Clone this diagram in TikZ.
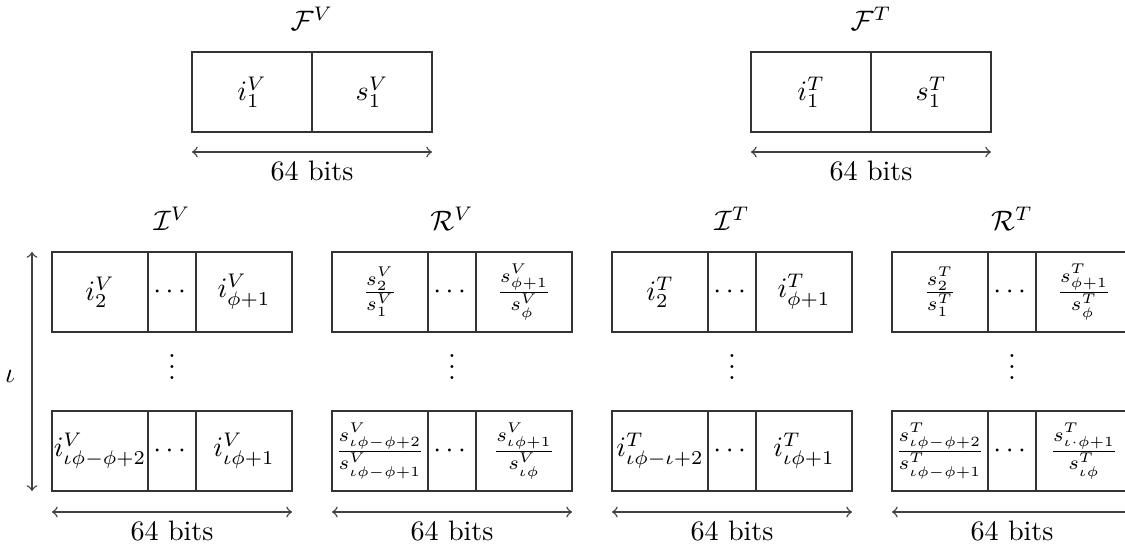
\documentclass[tikz,border=0pt]{standalone}
\usepackage{amsmath}
\usetikzlibrary{calc}
\newcommand\rowblock[6]{%
  \node[blk] (#1) at (#2,#3) {};
  \draw[divl] ($(#1.north west)!0.4!(#1.north east)$) -- ($(#1.south west)!0.4!(#1.south east)$);
  \draw[divl] ($(#1.north west)!0.6!(#1.north east)$) -- ($(#1.south west)!0.6!(#1.south east)$);
  \node[txt] (#1-a) at ($(#1.west)!0.2!(#1.east)$) {#4};
  \node[txt] (#1-b) at (#1.center) {#5};
  \node[txt] (#1-c) at ($(#1.west)!0.8!(#1.east)$) {#6};
}
\newcommand\pairblock[4]{%
  \node[blk] (#1) at (#2,#3) {};
  \draw[divl] (#1.north) -- (#1.south);
  \node[txt] (#1-a) at ($(#1.west)!0.25!(#1.east)$) {#4};
}
\begin{document}
\begin{tikzpicture}[x=0.0125cm,y=-0.0125cm,
  blk/.style={draw=black!80, line width=0.5pt, minimum width=3cm, minimum height=1cm, inner sep=0pt, outer sep=0pt, anchor=north west},
  divl/.style={draw=black!80, line width=0.5pt},
  txt/.style={inner sep=0pt},
  dim/.style={<->, draw=black!75, line width=0.5pt},
  lab/.style={anchor=base, inner sep=0pt}]
\clip (0,0) rectangle (1125,549);
% ---- top: F^V
\node[lab] (tFV) at (312,31) {$\mathcal{F}^V$};
\node[blk] (FV) at (192,52) {};
\draw[divl] (FV.north) -- (FV.south);
\node[txt] (FVa) at ($(FV.west)!0.25!(FV.east)$) {$i^V_1$};
\node[txt] (FVb) at ($(FV.west)!0.75!(FV.east)$) {$s^V_1$};
\coordinate (fvL) at (192,152); \coordinate (fvR) at (432,152);
\draw[dim] (fvL) -- (fvR);
\node[lab] (fvb) at (312,181) {64 bits};
% ---- top: F^T
\node[lab] (tFT) at (871,31) {$\mathcal{F}^T$};
\node[blk] (FT) at (751,52) {};
\draw[divl] (FT.north) -- (FT.south);
\node[txt] (FTa) at ($(FT.west)!0.25!(FT.east)$) {$i^T_1$};
\node[txt] (FTb) at ($(FT.west)!0.75!(FT.east)$) {$s^T_1$};
\coordinate (ftL) at (751,152); \coordinate (ftR) at (991,152);
\draw[dim] (ftL) -- (ftR);
\node[lab] (ftb) at (871,181) {64 bits};
% ---- left iota arrow
\coordinate (iotT) at (32,252); \coordinate (iotB) at (32,491);
\draw[dim] (iotT) -- (iotB);
\node (iota) at (10,376) {$\iota$};
% ---- I^V
\node[lab] (tIV) at (172,231) {$\mathcal{I}^V$};
\rowblock{IV1}{52}{252}{$i^V_2$}{$\cdots$}{$i^V_{\phi+1}$}
\node[lab] (ivd) at (172,380) {$\vdots$};
\rowblock{IV2}{52}{411}{$i^V_{\iota\phi-\phi+2}$}{$\cdots$}{$i^V_{\iota\phi+1}$}
\coordinate (ivL) at (52,512); \coordinate (ivR) at (292,512);
\draw[dim] (ivL) -- (ivR);
\node[lab] (ivb) at (172,540) {64 bits};
% ---- R^V
\node[lab] (tRV) at (452,231) {$\mathcal{R}^V$};
\rowblock{RV1}{332}{252}{$\frac{s^V_2}{s^V_1}$}{$\cdots$}{$\frac{s^V_{\phi+1}}{s^V_{\phi}}$}
\node[lab] (rvd) at (452,380) {$\vdots$};
\rowblock{RV2}{332}{411}{$\frac{s^V_{\iota\phi-\phi+2}}{s^V_{\iota\phi-\phi+1}}$}{$\cdots$}{$\frac{s^V_{\iota\phi+1}}{s^V_{\iota\phi}}$}
\coordinate (rvL) at (332,512); \coordinate (rvR) at (572,512);
\draw[dim] (rvL) -- (rvR);
\node[lab] (rvb) at (452,540) {64 bits};
% ---- I^T
\node[lab] (tIT) at (732,231) {$\mathcal{I}^T$};
\rowblock{IT1}{612}{252}{$i^T_2$}{$\cdots$}{$i^T_{\phi+1}$}
\node[lab] (itd) at (732,380) {$\vdots$};
\rowblock{IT2}{612}{411}{$i^T_{\iota\phi-\iota+2}$}{$\cdots$}{$i^T_{\iota\phi+1}$}
\coordinate (itL) at (612,512); \coordinate (itR) at (852,512);
\draw[dim] (itL) -- (itR);
\node[lab] (itb) at (732,540) {64 bits};
% ---- R^T
\node[lab] (tRT) at (1012,231) {$\mathcal{R}^T$};
\rowblock{RT1}{892}{252}{$\frac{s^T_2}{s^T_1}$}{$\cdots$}{$\frac{s^T_{\phi+1}}{s^T_{\phi}}$}
\node[lab] (rtd) at (1012,380) {$\vdots$};
\rowblock{RT2}{892}{411}{$\frac{s^T_{\iota\phi-\phi+2}}{s^T_{\iota\phi-\phi+1}}$}{$\cdots$}{$\frac{s^T_{\iota\cdot\phi+1}}{s^T_{\iota\phi}}$}
\coordinate (rtL) at (892,512); \coordinate (rtR) at (1132,512);
\draw[dim] (rtL) -- (rtR);
\node[lab] (rtb) at (1012,540) {64 bits};
\end{tikzpicture}
\end{document}
